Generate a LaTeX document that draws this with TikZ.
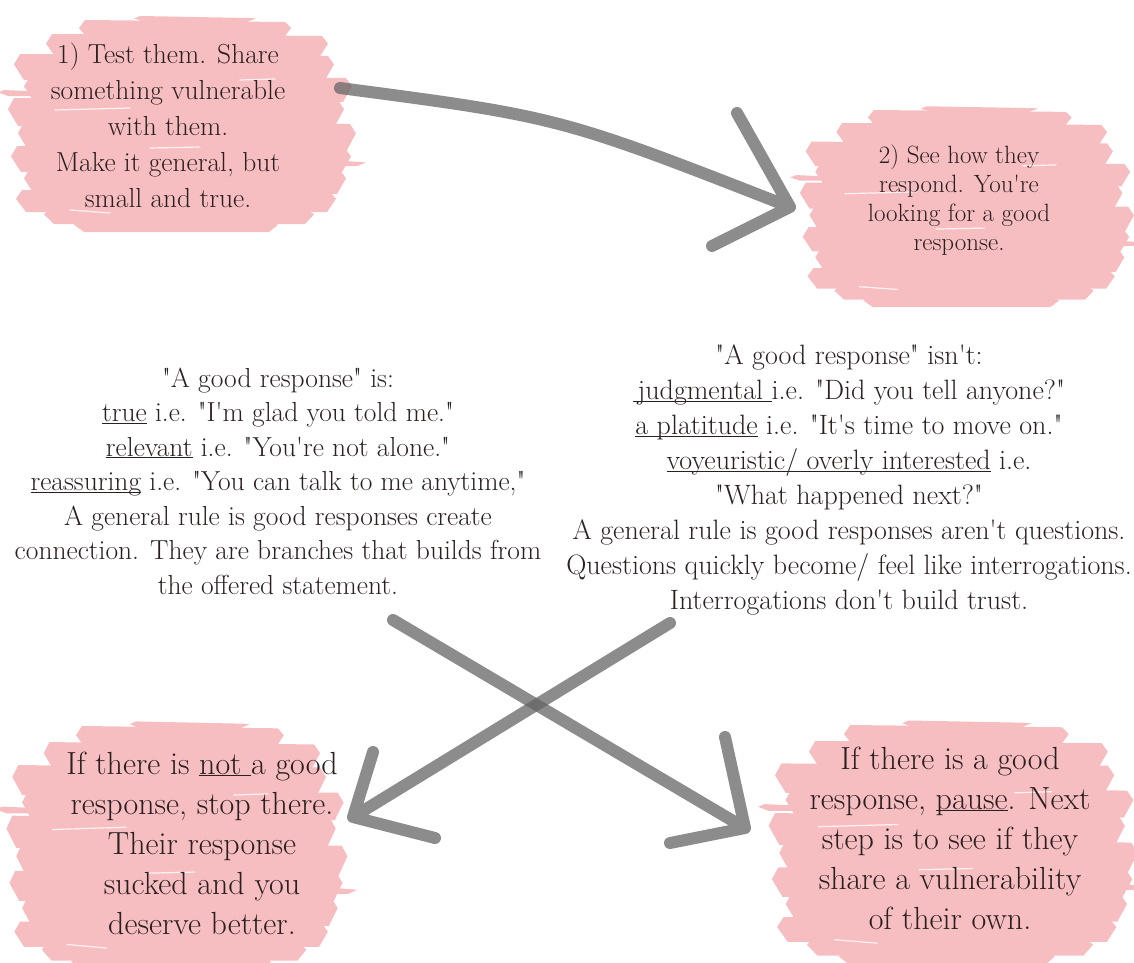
\documentclass[tikz,border=0pt]{standalone}
\usepackage{fontspec}
\setmainfont{Latin Modern Roman}[Ligatures=TeXOff]
\usepackage{xcolor}
\definecolor{blush}{HTML}{F7BEC2}
\definecolor{ink}{HTML}{2B2020}
\definecolor{brushgray}{HTML}{646464}
\usetikzlibrary{positioning}
\newcommand{\uline}[1]{\underline{\smash{#1}}}
\newcommand{\pinkblob}[3]{%
  \begin{scope}[shift={(#1)}, xscale=#2, yscale=#3]
    \foreach \xa/\xb/\ya/\yb in {-95/105/-100/-80, -128/142/-86/-62, -160/148/-66/-40, -150/166/-44/-18,
      -166/158/-22/6, -156/170/2/30, -163/165/26/52, -150/160/48/74, -158/150/70/92, -130/128/88/104,
      -100/92/100/112, -176/-130/-30/-24, 150/180/40/46, -40/70/-104/-98}
      \fill[blush] (\xa,\ya) -- (\xb,\ya+2) -- (\xb+6,{\ya+0.4*(\yb-\ya)}) -- (\xb-3,\yb)
        -- (\xa+4,\yb) -- (\xa-6,{\yb-0.6*(\yb-\ya)}) -- cycle;
    \draw[white, opacity=0.8, line width=1.2pt, line cap=round] (-125,-10) -- (-50,-12) (-30,28) -- (20,27)
      (-110,90) -- (-70,93) (60,-40) -- (95,-41);
  \end{scope}}

\begin{document}
\begin{tikzpicture}[x=1pt, y=-1pt,
  txt/.style={align=center, text=ink, inner sep=0pt},
  blobtxt/.style={txt, font=\fontsize{32}{40}\selectfont},
  midtxt/.style={txt, font=\fontsize{27.5}{34.5}\selectfont},
  brush/.style={draw=brushgray, line width=12pt, line cap=round, line join=round, draw opacity=0.74},
]
  \useasboundingbox (0,0) rectangle (1134,962);

  \pinkblob{180,120}{1}{1}
  \pinkblob{965,203}{0.96}{0.93}
  \pinkblob{175,841}{0.98}{1.15}
  \pinkblob{951,838}{1.06}{1.13}

  \node[txt, font=\fontsize{27.5}{36}\selectfont] (test) at (168,125)
    {1) Test them. Share\\something vulnerable\\with them.\\Make it general, but\\small and true.};
  \node[txt, font=\fontsize{25}{29}\selectfont] (see) at (959,200)
    {2) See how they\\respond. You're\\looking for a good\\response.};
  \node[midtxt] (good) at (278,481)
    {"A good response" is:\\
     \uline{true} i.e. "I'm glad you told me."\\
     \uline{relevant} i.e. "You're not alone."\\
     \uline{reassuring} i.e. "You can talk to me anytime,"\\
     A general rule is good responses create\\
     connection. They are branches that builds from\\
     the offered statement.};
  \node[midtxt, font=\fontsize{28}{35}\selectfont] (bad) at (849,480)
    {"A good response" isn't:\\
     \uline{\,judgmental\ }i.e. "Did you tell anyone?"\\
     \uline{a platitude} i.e. "It's time to move on."\\
     \uline{voyeuristic/ overly interested} i.e.\\
     "What happened next?"\\
     A general rule is good responses aren't questions.\\
     Questions quickly become/ feel like interrogations.\\
     Interrogations don't build trust.};
  \node[blobtxt] (stop) at (202,843)
    {If there is \uline{not }a good\\response, stop there.\\Their response\\sucked and you\\deserve better.};
  \node[blobtxt] (pause) at (950,838)
    {If there is a good\\response, \uline{pause}. Next\\step is to see if they\\share a vulnerability\\of their own.};

  \coordinate (a1s) at (340,88);
  \coordinate (a1e) at (790,207);
  \coordinate (a1u) at (737,113);
  \coordinate (a1d) at (712,246);
  \coordinate (a2s) at (393,620);
  \coordinate (a2e) at (745,828);
  \coordinate (a2u) at (725,737);
  \coordinate (a2d) at (670,843);
  \coordinate (a3s) at (670,623);
  \coordinate (a3e) at (353,817);
  \coordinate (a3u) at (373,752);
  \coordinate (a3d) at (435,838);

  \draw[brush] (a1s) .. controls (560,117) .. (a1e) (a1u) -- (a1e) -- (a1d);
  \draw[brush] (a2s) -- (a2e) (a2u) -- (a2e) -- (a2d);
  \draw[brush] (a3s) -- (a3e) (a3u) -- (a3e) -- (a3d);
\end{tikzpicture}
\end{document}
